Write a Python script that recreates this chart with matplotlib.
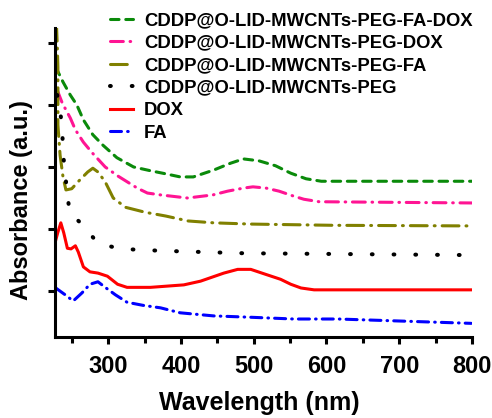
import matplotlib.pyplot as plt
import matplotlib as mpl

mpl.rcParams['font.family'] = ['Liberation Sans', 'DejaVu Sans']
mpl.rcParams['font.weight'] = 'bold'

# Данные (длина волны, нм / поглощение, отн. ед.)
wl_fadox = [228, 238, 248, 257, 266, 279, 293, 312, 335, 358, 379, 399, 417, 445, 468, 486, 507, 530, 551, 572, 593, 703, 802]
ab_fadox = [3.61, 3.37, 3.16, 3.0, 2.76, 2.52, 2.35, 2.15, 2.0, 1.94, 1.89, 1.84, 1.84, 1.95, 2.06, 2.13, 2.10, 2.02, 1.90, 1.81, 1.77, 1.77, 1.77]

wl_dox_peg = [230, 237, 248, 255, 266, 278, 296, 314, 340, 354, 372, 409, 444, 464, 486, 499, 517, 535, 555, 569, 590, 802]
ab_dox_peg = [3.24, 3.03, 2.79, 2.60, 2.40, 2.23, 2.0, 1.85, 1.66, 1.58, 1.55, 1.50, 1.55, 1.61, 1.66, 1.68, 1.66, 1.61, 1.53, 1.48, 1.44, 1.42]

wl_fa_peg = [229, 230, 231, 231, 234, 238, 242, 250, 261, 272, 279, 286, 296, 307, 324, 351, 379, 410, 445, 496, 610, 802]
ab_fa_peg = [4.3, 4.0, 3.6, 2.68, 2.19, 1.84, 1.63, 1.65, 1.79, 1.92, 1.98, 1.92, 1.76, 1.50, 1.35, 1.27, 1.21, 1.13, 1.10, 1.08, 1.06, 1.05]

wl_peg = [230, 234, 237, 238, 241, 244, 247, 264, 286, 317, 372, 486, 799]
ab_peg = [3.16, 2.92, 2.60, 2.24, 1.87, 1.58, 1.26, 1.08, 0.77, 0.68, 0.65, 0.61, 0.58]

wl_dox = [228, 231, 235, 239, 244, 249, 255, 259, 266, 275, 286, 299, 313, 326, 358, 404, 427, 459, 478, 496, 519, 537, 551, 565, 583, 620, 802]
ab_dox = [0.82, 0.95, 1.10, 0.94, 0.69, 0.68, 0.73, 0.63, 0.39, 0.31, 0.29, 0.24, 0.11, 0.06, 0.06, 0.10, 0.16, 0.29, 0.35, 0.35, 0.26, 0.19, 0.11, 0.05, 0.02, 0.02, 0.02]

wl_fa = [228, 241, 252, 264, 275, 286, 296, 310, 326, 348, 372, 399, 445, 492, 555, 616, 799]
ab_fa = [0.05, -0.06, -0.16, -0.03, 0.11, 0.15, 0.06, -0.06, -0.18, -0.23, -0.27, -0.35, -0.40, -0.42, -0.45, -0.45, -0.52]

labels = ['CDDP@O-LID-MWCNTs-PEG-FA-DOX', 'CDDP@O-LID-MWCNTs-PEG-DOX',
          'CDDP@O-LID-MWCNTs-PEG-FA', 'CDDP@O-LID-MWCNTs-PEG', 'DOX', 'FA']

fig = plt.figure(figsize=(4.92, 4.18), dpi=100)
ax = fig.add_axes([55/492, 1-337/418, 417/492, 309/418])

lw = 2.2
ax.plot(wl_fadox, ab_fadox, color='#0a8a0a', lw=lw, ls=(0, (2.8, 2.2)), dash_capstyle='round', label=labels[0])
ax.plot(wl_dox_peg, ab_dox_peg, color='#ff1493', lw=lw, ls=(0, (4.2, 2.2, 0.2, 2.2)), dash_capstyle='round', label=labels[1])
ax.plot(wl_fa_peg, ab_fa_peg, color='#808000', lw=lw, ls=(0, (5.5, 2.3, 0.3, 2.3)), dash_capstyle='round', label=labels[2])
ax.plot(wl_peg, ab_peg, color='k', lw=2.9, ls=(0, (0.2, 5.2)), dash_capstyle='round', label=labels[3])
ax.plot(wl_dox, ab_dox, color='#ff0000', lw=lw, ls='-', label=labels[4])
ax.plot(wl_fa, ab_fa, color='#0000ff', lw=lw, ls=(0, (3.6, 2.0, 0.2, 2.0)), dash_capstyle='round', label=labels[5])

ax.set_xlim(227, 800)
ax.set_ylim(-0.74, 4.24)
ax.set_xticks([300, 400, 500, 600, 700, 800])
ax.set_xticks([250, 350, 450, 550, 650, 750], minor=True)
ax.set_yticks([0, 1, 2, 3, 4])
ax.set_yticklabels([])

for s in ['top', 'right']:
    ax.spines[s].set_visible(False)
for s in ['left', 'bottom']:
    ax.spines[s].set_linewidth(2.2)

ax.tick_params(which='major', direction='out', length=5, width=2.2, labelsize=17, pad=8)
ax.tick_params(which='minor', direction='out', length=4, width=2.2)
for t in ax.get_xticklabels():
    t.set_fontweight('bold')

ax.set_xlabel('Wavelength (nm)', fontsize=18, fontweight='bold')
ax.set_ylabel('Absorbance (a.u.)', fontsize=17, fontweight='bold')
ax.xaxis.set_label_coords(0.49, -0.175)
ax.yaxis.set_label_coords(-0.052, 0.443)

fig.legend(loc='upper left', bbox_to_anchor=(110/492, 1-12/418), frameon=False,
           prop={'size': 13.3, 'weight': 'bold'}, handlelength=1.25, handletextpad=0.6,
           labelspacing=0.3, borderpad=0, borderaxespad=0)

plt.savefig('out.png', dpi=100)
